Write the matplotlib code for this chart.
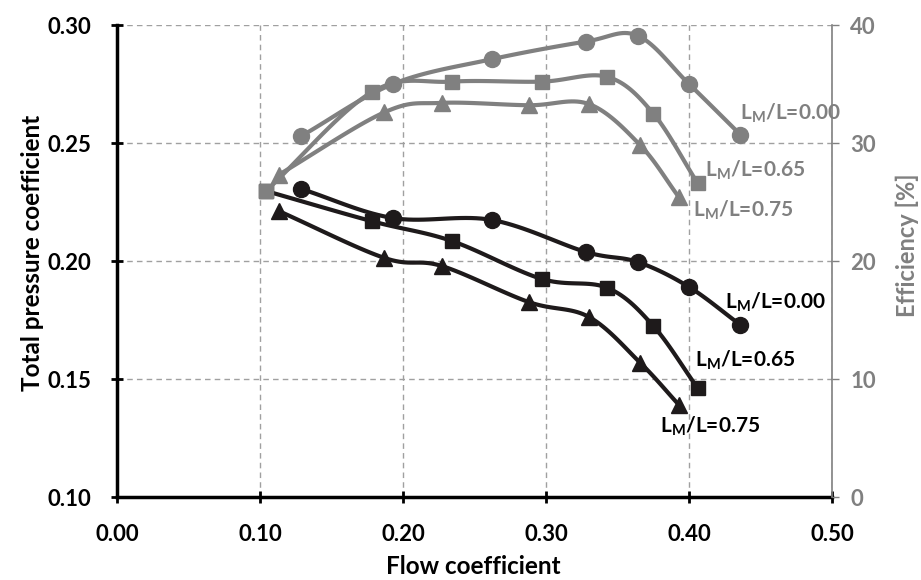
import matplotlib.pyplot as plt
import numpy as np

# flow coefficient values of each series
phi_000 = [0.129, 0.193, 0.262, 0.328, 0.364, 0.400, 0.436]
phi_065 = [0.104, 0.178, 0.234, 0.297, 0.343, 0.375, 0.406]
phi_075 = [0.113, 0.187, 0.227, 0.288, 0.330, 0.366, 0.393]

# total pressure coefficient (left axis)
psi_000 = [0.2305, 0.2182, 0.2174, 0.2038, 0.1996, 0.1890, 0.1729]
psi_065 = [0.2297, 0.2169, 0.2085, 0.1924, 0.1886, 0.1725, 0.1462]
psi_075 = [0.2212, 0.2013, 0.1979, 0.1826, 0.1763, 0.1568, 0.1390]

# efficiency [%] (right axis)
eff_000 = [30.6, 35.0, 37.1, 38.6, 39.1, 35.0, 30.7]
eff_065 = [25.9, 34.3, 35.2, 35.2, 35.6, 32.5, 26.6]
eff_075 = [27.3, 32.6, 33.4, 33.2, 33.3, 29.8, 25.4]

labels = ['L$_\\mathregular{M}$/L=0.00', 'L$_\\mathregular{M}$/L=0.65', 'L$_\\mathregular{M}$/L=0.75']
markers = ['o', 's', '^']

BLACK = '#1e1a1b'
GRAY = '#808080'

plt.rcParams['font.family'] = ['Lato', 'DejaVu Sans']
plt.rcParams['font.weight'] = 'bold'
plt.rcParams['mathtext.default'] = 'regular'


def smooth(x, y, n=20):
    # Catmull-Rom curve through the points, like Excel's smoothed lines
    p = np.column_stack([x, y]).astype(float)
    p = np.vstack([2 * p[0] - p[1], p, 2 * p[-1] - p[-2]])
    out = []
    t = np.linspace(0, 1, n)[:, None]
    for i in range(1, len(p) - 2):
        p0, p1, p2, p3 = p[i - 1], p[i], p[i + 1], p[i + 2]
        seg = 0.5 * (2 * p1 + (-p0 + p2) * t + (2 * p0 - 5 * p1 + 4 * p2 - p3) * t ** 2
                     + (-p0 + 3 * p1 - 3 * p2 + p3) * t ** 3)
        out.append(seg)
    out = np.vstack(out)
    return out[:, 0], out[:, 1]


fig = plt.figure(figsize=(9.21, 5.8), dpi=100)
ax = fig.add_axes([117 / 921, 1 - 497 / 580, 715 / 921, 472 / 580])
ax2 = ax.twinx()

phis = [phi_000, phi_065, phi_075]
psis = [psi_000, psi_065, psi_075]
effs = [eff_000, eff_065, eff_075]
msize = {'o': 11.5, 's': 10.5, '^': 11.5}

for phi, psi, m in zip(phis, psis, markers):
    sx, sy = smooth(phi, psi)
    ax.plot(sx, sy, color=BLACK, lw=3, zorder=3)
    ax.plot(phi, psi, ls='none', marker=m, ms=msize[m], color=BLACK, zorder=4)

for phi, eff, m in zip(phis, effs, markers):
    sx, sy = smooth(phi, eff)
    ax2.plot(sx, sy, color=GRAY, lw=3, zorder=3)
    ax2.plot(phi, eff, ls='none', marker=m, ms=msize[m], color=GRAY, zorder=4)

ax.set_xlim(0, 0.5)
ax.set_ylim(0.10, 0.30)
ax2.set_ylim(0, 40)
ax.set_xticks(np.arange(0, 0.51, 0.1))
ax.set_yticks(np.arange(0.10, 0.301, 0.05))
ax2.set_yticks(np.arange(0, 41, 10))
ax.xaxis.set_major_formatter(plt.FormatStrFormatter('%.2f'))
ax.yaxis.set_major_formatter(plt.FormatStrFormatter('%.2f'))

ax.grid(True, ls=(0, (4, 3)), color='#a0a0a0', lw=1)

ax.set_xlabel('Flow coefficient', fontsize=17.5, fontweight='bold', va='top')
ax.set_ylabel('Total pressure coefficient', fontsize=17.5, fontweight='bold')
ax2.set_ylabel('Efficiency [%]', fontsize=17, fontweight='bold', color=GRAY)
ax.xaxis.set_label_coords(0.498, -(555 - 497) / 472)
ax.yaxis.set_label_coords((44 - 117) / 715, 0.517)
ax2.yaxis.set_label_coords((896 - 117) / 715, 0.534)

ax.tick_params(axis='x', labelsize=16, width=2, length=9, direction='inout', color='black', pad=15)
ax.tick_params(axis='y', labelsize=16, width=2, length=9, direction='inout', color='black', pad=14)
ax2.tick_params(axis='y', labelsize=16, width=1, length=5, direction='out', colors=GRAY, pad=8)

for a in (ax, ax2):
    a.spines['top'].set_visible(False)
ax.spines['left'].set_linewidth(2.5)
ax.spines['bottom'].set_linewidth(2.5)
ax.spines['right'].set_visible(False)
ax2.spines['left'].set_visible(False)
ax2.spines['bottom'].set_visible(False)
ax2.spines['right'].set_color(GRAY)
ax2.spines['right'].set_linewidth(1.2)

# series labels (left edge, baseline)
gray_pos = [(0.436, 0.2597), (0.411, 0.2356), (0.403, 0.2186)]
black_pos = [(0.425, 0.180), (0.404, 0.1551), (0.380, 0.1271)]
for lab, (x, y) in zip(labels, gray_pos):
    ax.text(x, y, lab, color=GRAY, fontsize=15, fontweight='bold', va='baseline', ha='left', zorder=5)
for lab, (x, y) in zip(labels, black_pos):
    ax.text(x, y, lab, color='black', fontsize=15, fontweight='bold', va='baseline', ha='left', zorder=5)

fig.savefig('out.png', dpi=100)
